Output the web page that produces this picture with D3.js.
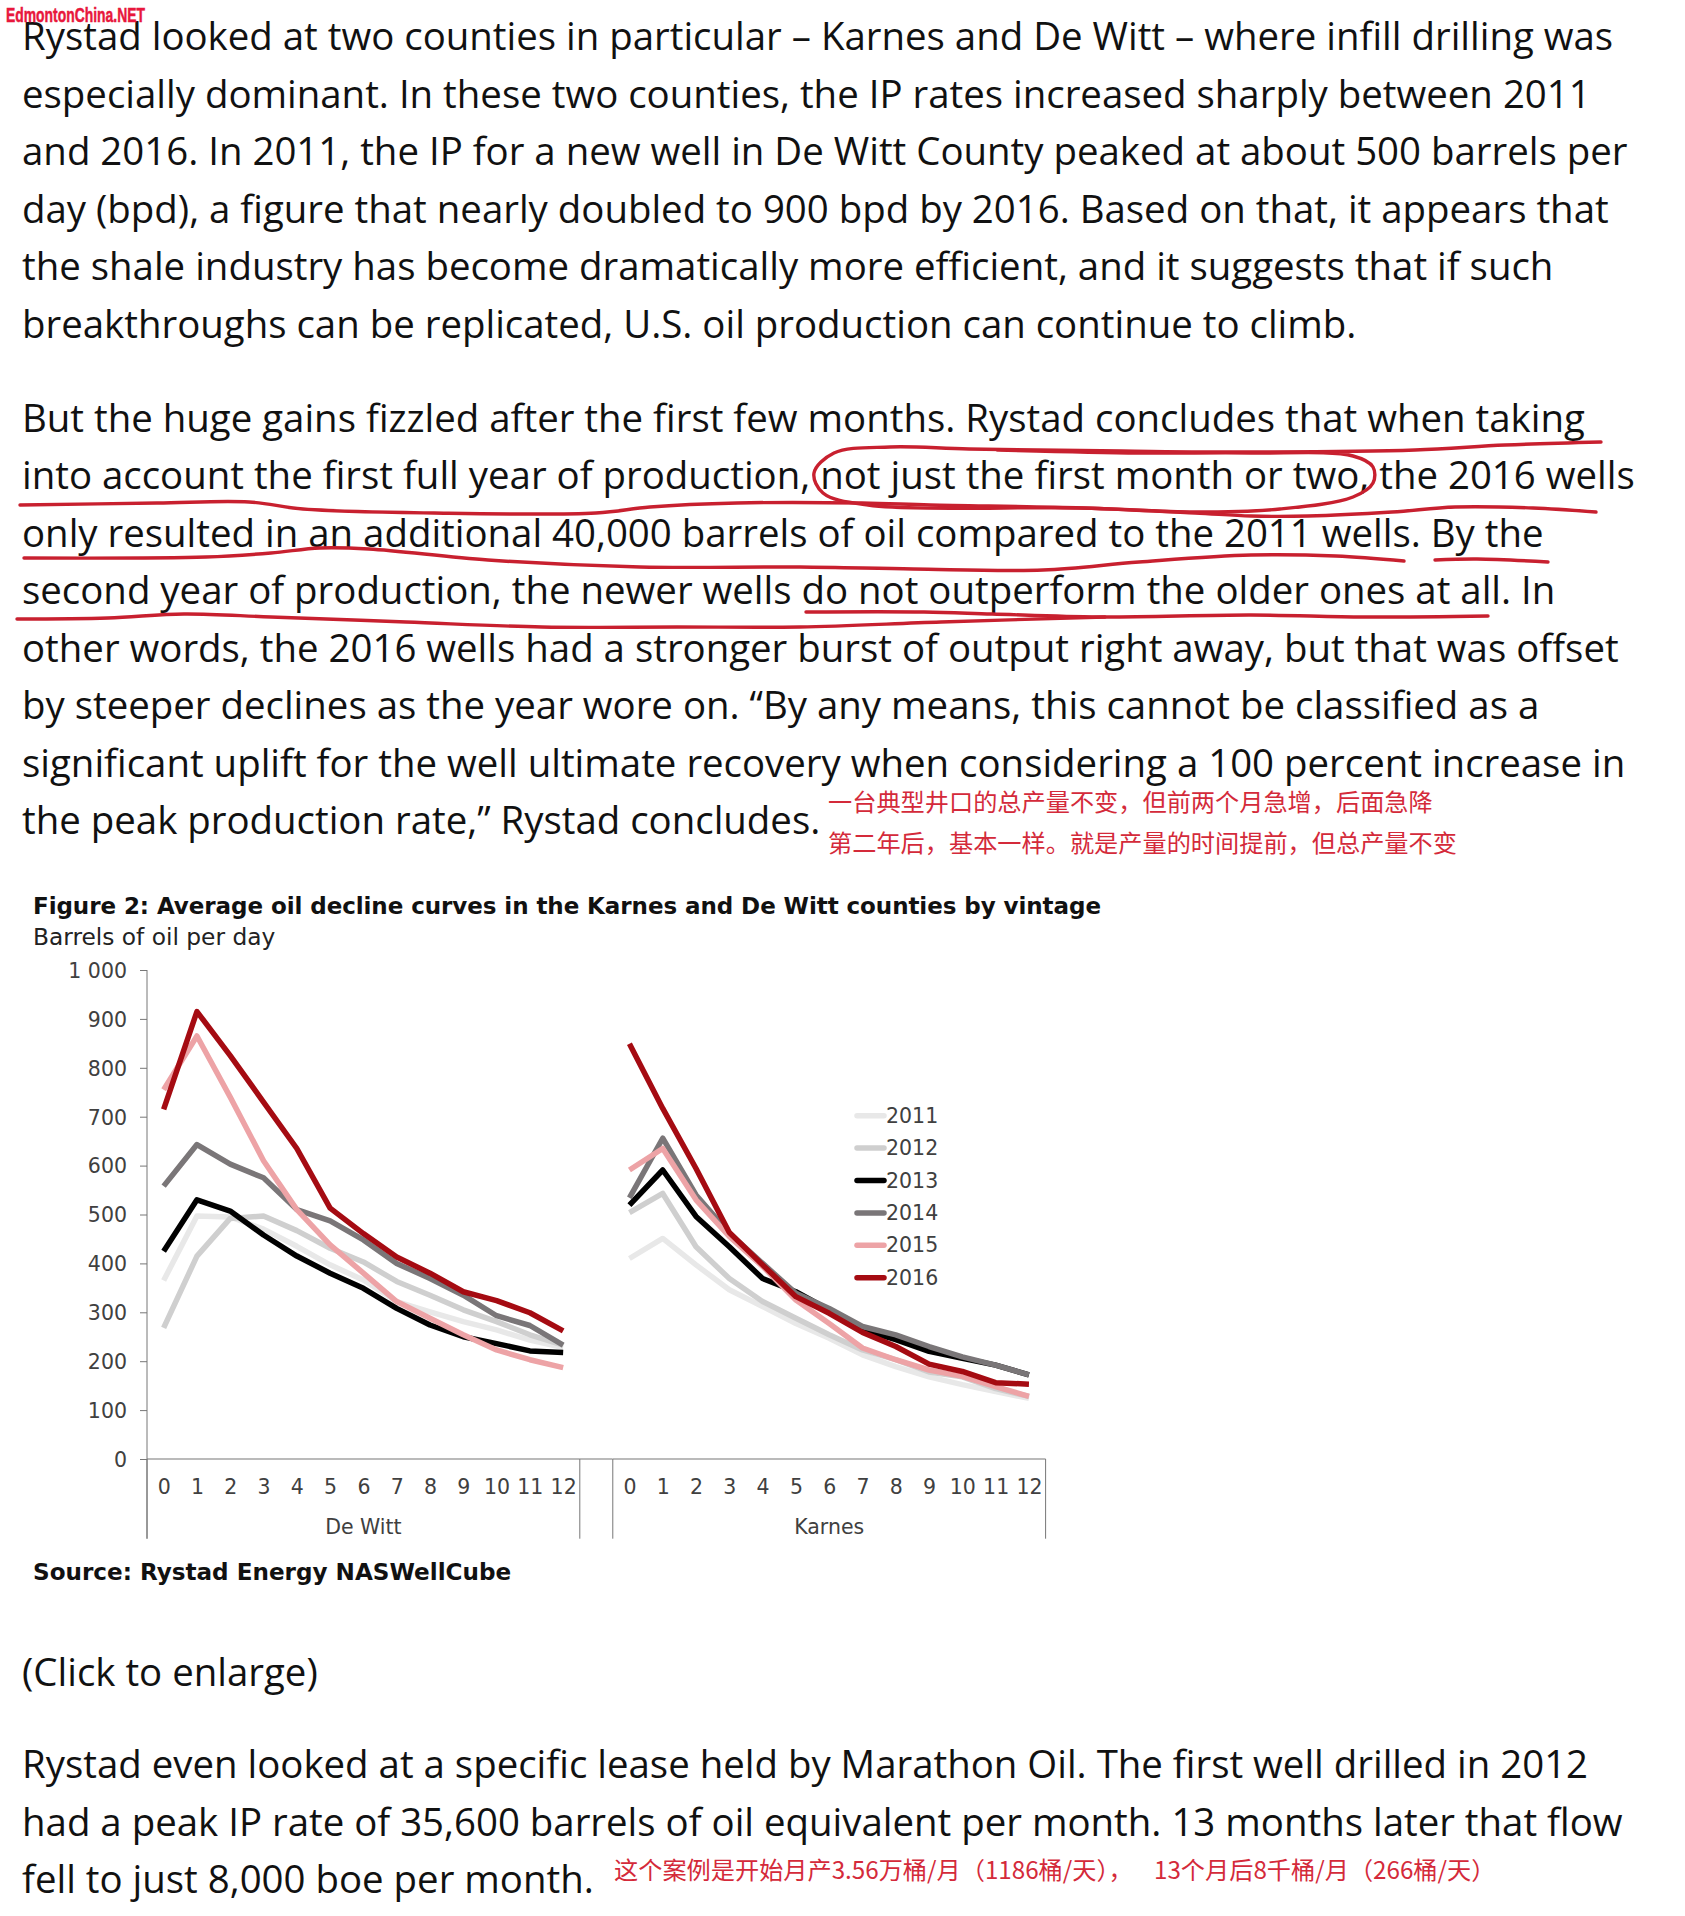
<!DOCTYPE html>
<html>
<head>
<meta charset="utf-8">
<script src="https://cdn.jsdelivr.net/npm/d3@7"></script>
<style>
  body { margin: 0; background: #fff; }
  svg { display: block; }
</style>
</head>
<body>
<svg id="chart" width="1685" height="1916"></svg>
<script>
var panels = ["De Witt", "Karnes"];
var months = ["0", "1", "2", "3", "4", "5", "6", "7", "8", "9", "10", "11", "12"];
var vintages = ["2011", "2012", "2013", "2014", "2015", "2016"];
var yTicks = [0, 100, 200, 300, 400, 500, 600, 700, 800, 900, 1000];

// barrels of oil per day, month 0 to 12
var deWitt2011 = [365, 497, 495, 470, 435, 397, 366, 322, 301, 281, 264, 243, 228];
var deWitt2012 = [268, 415, 492, 497, 467, 431, 403, 363, 335, 305, 281, 254, 233];
var deWitt2013 = [425, 530, 507, 458, 415, 380, 349, 308, 274, 250, 236, 221, 218];
var deWitt2014 = [558, 643, 603, 575, 510, 487, 448, 400, 369, 335, 293, 273, 233];
var deWitt2015 = [755, 865, 740, 610, 510, 438, 380, 322, 288, 254, 223, 203, 187];
var deWitt2016 = [715, 915, 825, 730, 635, 513, 461, 413, 380, 342, 324, 299, 262];

var karnes2011 = [410, 451, 397, 346, 312, 277, 247, 213, 189, 168, 152, 138, 124];
var karnes2012 = [504, 543, 434, 369, 322, 288, 254, 223, 203, 178, 168, 144, 128];
var karnes2013 = [519, 591, 496, 434, 369, 342, 305, 264, 244, 220, 206, 192, 172];
var karnes2014 = [534, 656, 540, 462, 400, 339, 308, 271, 254, 230, 209, 192, 172];
var karnes2015 = [591, 635, 530, 455, 394, 325, 277, 227, 203, 182, 169, 148, 128];
var karnes2016 = [849, 717, 594, 463, 397, 332, 298, 259, 230, 194, 179, 156, 153];

var colors = ["#e8e8e8", "#cfcfcf", "#000000", "#7a7678", "#eda3a6", "#a50b12"];

var introLines = [
  "Rystad looked at two counties in particular – Karnes and De Witt – where infill drilling was",
  "especially dominant. In these two counties, the IP rates increased sharply between 2011",
  "and 2016. In 2011, the IP for a new well in De Witt County peaked at about 500 barrels per",
  "day (bpd), a figure that nearly doubled to 900 bpd by 2016. Based on that, it appears that",
  "the shale industry has become dramatically more efficient, and it suggests that if such",
  "breakthroughs can be replicated, U.S. oil production can continue to climb."
];
var middleLines = [
  "But the huge gains fizzled after the first few months. Rystad concludes that when taking",
  "into account the first full year of production, not just the first month or two, the 2016 wells",
  "only resulted in an additional 40,000 barrels of oil compared to the 2011 wells. By the",
  "second year of production, the newer wells do not outperform the older ones at all. In",
  "other words, the 2016 wells had a stronger burst of output right away, but that was offset",
  "by steeper declines as the year wore on. “By any means, this cannot be classified as a",
  "significant uplift for the well ultimate recovery when considering a 100 percent increase in",
  "the peak production rate,” Rystad concludes."
];
var clickLines = ["(Click to enlarge)"];
var closingLines = [
  "Rystad even looked at a specific lease held by Marathon Oil. The first well drilled in 2012",
  "had a peak IP rate of 35,600 barrels of oil equivalent per month. 13 months later that flow",
  "fell to just 8,000 boe per month."
];

// red pen strokes on top of the text, in page pixels
var penStrokes = [
  [[20, 505], [157, 503], [249, 502], [303, 509], [434, 513], [596, 513], [650, 507], [737, 503], [862, 503], [930, 505], [1082, 508], [1195, 513], [1251, 516], [1308, 516], [1392, 512], [1455, 507], [1533, 508], [1596, 512]],
  [[1601, 442], [1505, 445], [1415, 450], [1251, 452], [1122, 451], [969, 449], [890, 447], [834, 453], [814, 473], [823, 493], [868, 505], [1082, 508], [1195, 512], [1280, 509], [1353, 497], [1373, 483], [1373, 467], [1353, 456], [1251, 453], [1139, 453], [997, 450]],
  [[24, 558], [206, 557], [271, 553], [320, 548], [369, 549], [488, 560], [640, 567], [800, 567], [913, 569], [1043, 570], [1139, 562], [1251, 555], [1336, 556], [1404, 561]],
  [[1435, 560], [1477, 559], [1548, 562]],
  [[17, 619], [108, 618], [184, 614], [271, 617], [406, 622], [542, 627], [677, 627], [800, 627], [941, 622], [1105, 617]],
  [[806, 612], [924, 612], [992, 614], [1099, 617], [1251, 615], [1364, 617], [1488, 616]]
];

var svg = d3.select("#chart");
var bodyFont = "'Open Sans', sans-serif";
var chartFont = "'DejaVu Sans', Verdana, sans-serif";
var cjkFont = "'Noto Sans CJK SC', sans-serif";

function drawParagraph(lines, firstBaseline) {
  svg.append("g").selectAll("text")
    .data(lines)
    .enter().append("text")
    .attr("x", 22)
    .attr("y", function (d, i) { return firstBaseline + i * 57.5; })
    .attr("font-family", bodyFont)
    .attr("font-size", 38.4)
    .attr("fill", "#111")
    .text(function (d) { return d; });
}

drawParagraph(introLines, 50);
drawParagraph(middleLines, 431.6);
drawParagraph(clickLines, 1686);
drawParagraph(closingLines, 1778);

// pen marks
var penLine = d3.line().curve(d3.curveCatmullRom.alpha(0.5));
svg.append("g").selectAll("path")
  .data(penStrokes)
  .enter().append("path")
  .attr("d", penLine)
  .attr("fill", "none")
  .attr("stroke", "#c8202f")
  .attr("stroke-width", 3.4)
  .attr("stroke-linecap", "round");

// notes in red
var notes = [
  { text: "一台典型井口的总产量不变，但前两个月急增，后面急降", x: 828, y: 811 },
  { text: "第二年后，基本一样。就是产量的时间提前，但总产量不变", x: 828, y: 852 },
  { text: "这个案例是开始月产3.56万桶/月（1186桶/天），", x: 614, y: 1879 },
  { text: "13个月后8千桶/月（266桶/天）", x: 1154, y: 1879 }
];
svg.append("g").selectAll("text")
  .data(notes)
  .enter().append("text")
  .attr("x", function (d) { return d.x; })
  .attr("y", function (d) { return d.y; })
  .attr("font-family", cjkFont)
  .attr("font-size", 24.2)
  .attr("fill", "#d42a3a")
  .text(function (d) { return d.text; });

// watermark
svg.append("text")
  .attr("x", 6)
  .attr("y", 22)
  .attr("textLength", 139)
  .attr("lengthAdjust", "spacingAndGlyphs")
  .attr("font-family", "'Liberation Sans Narrow', 'Liberation Sans', sans-serif")
  .attr("font-weight", "bold")
  .attr("font-size", 21)
  .attr("fill", "#e8173c")
  .attr("stroke", "#e8173c")
  .attr("stroke-width", 0.5)
  .text("EdmontonChina.NET");

// figure titles
svg.append("text")
  .attr("x", 33).attr("y", 914)
  .attr("textLength", 1068)
  .attr("font-family", chartFont).attr("font-weight", "bold").attr("font-size", 23)
  .attr("fill", "#111")
  .text("Figure 2: Average oil decline curves in the Karnes and De Witt counties by vintage");
svg.append("text")
  .attr("x", 33).attr("y", 945)
  .attr("font-family", chartFont).attr("font-size", 23.3)
  .attr("fill", "#222")
  .text("Barrels of oil per day");
svg.append("text")
  .attr("x", 33).attr("y", 1580)
  .attr("font-family", chartFont).attr("font-weight", "bold").attr("font-size", 23.1)
  .attr("fill", "#111")
  .text("Source: Rystad Energy NASWellCube");

// scales
var y = d3.scaleLinear().domain([0, 1000]).range([1459, 970]);
var panelX = d3.scaleBand().domain(panels).range([147, 1045.6]).paddingInner(0.0708);
var monthX = d3.scalePoint().domain(months).range([0, panelX.bandwidth()]).padding(0.5);
var axisBottom = 1538.7;
var axisColor = "#777";
var labelColor = "#404040";

// y axis
var yAxis = svg.append("g")
  .attr("transform", "translate(147,0)")
  .call(d3.axisLeft(y).tickValues(yTicks).tickSize(7).tickPadding(13)
    .tickFormat(function (d) { return d3.format(",")(d).replace(",", " "); }));
yAxis.select(".domain").attr("stroke", axisColor).attr("d", "M0,970V" + axisBottom);
yAxis.selectAll("line").attr("stroke", axisColor);
yAxis.selectAll("text")
  .attr("dy", "0.36em")
  .attr("font-family", chartFont).attr("font-size", 20.5).attr("fill", labelColor);

// one x axis for each county
panels.forEach(function (panel) {
  var g = svg.append("g").attr("transform", "translate(" + panelX(panel) + ",0)");
  var xAxis = g.append("g")
    .attr("transform", "translate(0," + y(0) + ")")
    .call(d3.axisBottom(monthX).tickSize(0).tickPadding(20));
  xAxis.select(".domain").remove();
  xAxis.selectAll("text")
    .attr("dy", "0.71em")
    .attr("font-family", chartFont).attr("font-size", 20.5).attr("fill", labelColor);

  g.append("line")
    .attr("x1", 0).attr("x2", panelX.bandwidth())
    .attr("y1", y(0)).attr("y2", y(0))
    .attr("stroke", axisColor).attr("stroke-width", 1.2);
  g.selectAll(".sep")
    .data([0, panelX.bandwidth()])
    .enter().append("line")
    .attr("x1", function (d) { return d; }).attr("x2", function (d) { return d; })
    .attr("y1", y(0)).attr("y2", axisBottom)
    .attr("stroke", axisColor);

  g.append("text")
    .attr("x", panelX.bandwidth() / 2)
    .attr("y", 1534)
    .attr("text-anchor", "middle")
    .attr("font-family", chartFont).attr("font-size", 20.5).attr("fill", labelColor)
    .text(panel);
});
// stretch of zero line between the two counties
svg.append("line").attr("x1", 579.7).attr("x2", 612.6).attr("y1", y(0)).attr("y2", y(0))
  .attr("stroke", axisColor).attr("stroke-width", 1.2);

// curves
var series = [
  { panel: "De Witt", lists: [deWitt2011, deWitt2012, deWitt2013, deWitt2014, deWitt2015, deWitt2016] },
  { panel: "Karnes", lists: [karnes2011, karnes2012, karnes2013, karnes2014, karnes2015, karnes2016] }
];
var line = d3.line()
  .x(function (d, i) { return monthX(months[i]); })
  .y(function (d) { return y(d); });

series.forEach(function (s) {
  svg.append("g")
    .attr("transform", "translate(" + panelX(s.panel) + ",0)")
    .selectAll("path")
    .data(s.lists)
    .enter().append("path")
    .attr("d", line)
    .attr("fill", "none")
    .attr("stroke", function (d, i) { return colors[i]; })
    .attr("stroke-width", 5.5)
    .attr("stroke-linejoin", "round");
});

// legend
var legendY = d3.scalePoint().domain(vintages).range([1115.7, 1277.7]);
var legend = svg.append("g").selectAll("g")
  .data(vintages)
  .enter().append("g")
  .attr("transform", function (d) { return "translate(857," + legendY(d) + ")"; });
legend.append("line")
  .attr("x1", 0).attr("x2", 27)
  .attr("stroke", function (d, i) { return colors[i]; })
  .attr("stroke-width", 5.5)
  .attr("stroke-linecap", "round");
legend.append("text")
  .attr("x", 29)
  .attr("dy", "0.35em")
  .attr("font-family", chartFont).attr("font-size", 20.5).attr("fill", labelColor)
  .text(function (d) { return d; });
</script>
</body>
</html>
